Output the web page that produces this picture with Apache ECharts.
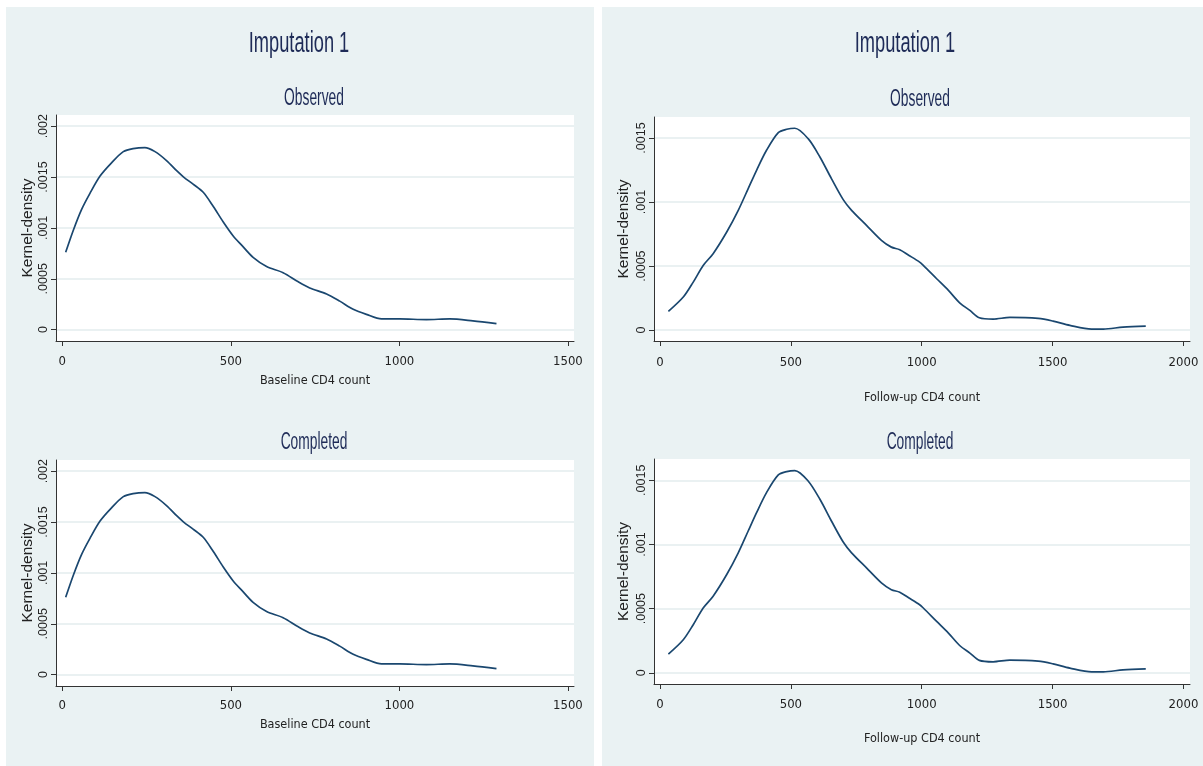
<!doctype html>
<html>
<head>
<meta charset="utf-8">
<title>Imputation 1 - kernel density</title>
<style>
html, body {
	margin: 0;
	padding: 0;
	background: #fff;
}
#main {
	width: 1203px;
	height: 766px;
}
</style>
</head>
<body>
<div id="main"></div>
<script src="https://cdn.jsdelivr.net/npm/echarts@6.0.0/dist/echarts.min.js"></script>
<script>
// left column: baseline CD4 count
var baselineCd4 = [10, 33, 57, 82, 112, 146, 181, 210, 245, 275, 310, 340, 360, 388, 418, 448, 477, 507, 532, 566,
  606, 655, 700, 734, 784, 823, 863, 902, 947, 1001, 1080, 1149, 1218, 1288];
var baselineObserved = [0.00076, 0.00098, 0.00118, 0.00134, 0.00151, 0.00164, 0.00175, 0.00178, 0.00179, 0.00175,
  0.00166, 0.00156, 0.00150, 0.00143, 0.00135, 0.00121, 0.00106, 0.00092, 0.00083, 0.00071,
  0.00062, 0.00056, 0.00047, 0.00041, 0.00035, 0.00028, 0.00020, 0.00015, 0.000105, 0.000105,
  0.000099, 0.000105, 0.000086, 0.000059];
var baselineCompleted = [0.00076, 0.00098, 0.00118, 0.00134, 0.00151, 0.00164, 0.00175, 0.00178, 0.00179, 0.00175,
  0.00166, 0.00156, 0.00150, 0.00143, 0.00135, 0.00121, 0.00106, 0.00092, 0.00083, 0.00071,
  0.00062, 0.00056, 0.00047, 0.00041, 0.00035, 0.00028, 0.00020, 0.00015, 0.000105, 0.000105,
  0.000099, 0.000105, 0.000086, 0.000059];

// right column: follow-up CD4 count
var followupCd4 = [32, 89, 127, 165, 203, 255, 299, 337, 369, 407, 452, 484, 515, 566, 611, 655, 700, 732, 789, 846,
  884, 916, 950, 992, 1006, 1057, 1102, 1146, 1184, 1220, 1273, 1337, 1445, 1502, 1566, 1649, 1694, 1769, 1856];
var followupObserved = [0.000146, 0.000258, 0.000375, 0.000505, 0.000597, 0.000766, 0.000935, 0.001105, 0.001248, 0.001404,
  0.001542, 0.001568, 0.001576, 0.001495, 0.001352, 0.001183, 0.001019, 0.000935, 0.000818, 0.000701,
  0.000648, 0.000628, 0.000585, 0.000531, 0.000505, 0.000401, 0.00031, 0.000211, 0.000154, 0.000097,
  0.000086, 0.000099, 0.000091, 0.00007, 0.000037, 0.000008, 0.000008, 0.000023, 0.000031];
var followupCompleted = [0.000146, 0.000258, 0.000375, 0.000505, 0.000597, 0.000766, 0.000935, 0.001105, 0.001248, 0.001404,
  0.001542, 0.001568, 0.001576, 0.001495, 0.001352, 0.001183, 0.001019, 0.000935, 0.000818, 0.000701,
  0.000648, 0.000628, 0.000585, 0.000531, 0.000505, 0.000401, 0.00031, 0.000211, 0.000154, 0.000097,
  0.000086, 0.000099, 0.000091, 0.00007, 0.000037, 0.000008, 0.000008, 0.000023, 0.000031];

var baselineTicks = [0, 500, 1000, 1500];
var followupTicks = [0, 500, 1000, 1500, 2000];
var baselineDensityTicks = [0, 0.0005, 0.001, 0.0015, 0.002];
var followupDensityTicks = [0, 0.0005, 0.001, 0.0015];

var narrow = '"Liberation Sans Narrow", "DejaVu Sans Condensed", sans-serif';
var plain = '"Liberation Sans", Arial, sans-serif';
var navy = '#1a476f';
var titleColor = '#1e2b57';
var panelBg = '#eaf2f3';

function pairs(xs, ys) {
  return xs.map(function (x, i) { return [x, ys[i]]; });
}

// stata style: .0005 instead of 0.0005
function densityLabel(v) {
  return v === 0 ? '0' : String(v).replace(/^0/, '');
}

function countLabel(v) {
  return String(v);
}

function xAxis(grid, ticks, min, max, name, gap, margin) {
  return {
    type: 'value', gridIndex: grid, min: min, max: max,
    name: name, nameLocation: 'middle', nameGap: gap,
    nameTextStyle: { fontFamily: narrow, fontSize: 12.5, color: '#222' },
    axisLine: { show: true, onZero: false, lineStyle: { color: '#333', width: 1 } },
    axisTick: { show: true, length: 5, customValues: ticks, lineStyle: { color: '#333' } },
    axisLabel: { customValues: ticks, margin: margin, formatter: countLabel,
      fontFamily: narrow, fontSize: 13, color: '#222' },
    splitLine: { show: false }
  };
}

function yAxis(grid, ticks, min, max, gap, margin) {
  return {
    type: 'value', gridIndex: grid, min: min, max: max,
    name: 'Kernel-density', nameLocation: 'middle', nameRotate: 90, nameGap: gap,
    nameTextStyle: { fontFamily: plain, fontSize: 15.5, color: '#222' },
    axisLine: { show: true, onZero: false, lineStyle: { color: '#333', width: 1 } },
    axisTick: { show: true, length: 5, customValues: ticks, lineStyle: { color: '#333' } },
    axisLabel: { customValues: ticks, rotate: 90, margin: margin, formatter: densityLabel,
      fontFamily: plain, fontSize: 12.5, color: '#222' },
    splitLine: { show: true, lineStyle: { color: '#e3ecee', width: 1.5 } }
  };
}

function curve(i, xs, ys) {
  return {
    type: 'line', xAxisIndex: i, yAxisIndex: i,
    data: pairs(xs, ys),
    symbol: 'none', smooth: 0.3,
    lineStyle: { color: navy, width: 1.7 }
  };
}

function heading(text, x, y, size, sx) {
  return {
    type: 'text', x: x, y: y, scaleX: sx, z: 10,
    style: { text: text, fontFamily: plain, fontSize: size, fill: titleColor,
      align: 'center', verticalAlign: 'middle' }
  };
}

var myChart = echarts.init(document.getElementById('main'));

var option = {
  animation: false,
  backgroundColor: '#fff',
  graphic: [
    { type: 'rect', z: -10, shape: { x: 6, y: 7, width: 588, height: 759 }, style: { fill: panelBg } },
    { type: 'rect', z: -10, shape: { x: 602, y: 7, width: 601, height: 759 }, style: { fill: panelBg } },
    heading('Imputation 1', 299, 44, 29, 0.63),
    heading('Imputation 1', 905, 44, 29, 0.63),
    heading('Observed', 314, 99, 23, 0.6),
    heading('Observed', 920, 100, 23, 0.6),
    heading('Completed', 314, 443, 23, 0.6),
    heading('Completed', 920, 443, 23, 0.6)
  ],
  grid: [
    { left: 56, top: 115, width: 518, height: 226, show: true, backgroundColor: '#fff', borderWidth: 0 },
    { left: 654, top: 117, width: 536, height: 224, show: true, backgroundColor: '#fff', borderWidth: 0 },
    { left: 56, top: 460, width: 518, height: 226, show: true, backgroundColor: '#fff', borderWidth: 0 },
    { left: 654, top: 459, width: 536, height: 225, show: true, backgroundColor: '#fff', borderWidth: 0 }
  ],
  xAxis: [
    xAxis(0, baselineTicks, -18.7, 1518, 'Baseline CD4 count', 33, 14),
    xAxis(1, followupTicks, -22.9, 2025, 'Follow-up CD4 count', 50, 15),
    xAxis(2, baselineTicks, -18.7, 1518, 'Baseline CD4 count', 32, 13),
    xAxis(3, followupTicks, -22.9, 2025, 'Follow-up CD4 count', 48, 14)
  ],
  yAxis: [
    yAxis(0, baselineDensityTicks, -0.000112, 0.00211, 16, 6),
    yAxis(1, followupDensityTicks, -0.000085, 0.001664, 22, 6),
    yAxis(2, baselineDensityTicks, -0.000112, 0.00211, 16, 6),
    yAxis(3, followupDensityTicks, -0.000087, 0.001666, 22, 6)
  ],
  series: [
    curve(0, baselineCd4, baselineObserved),
    curve(1, followupCd4, followupObserved),
    curve(2, baselineCd4, baselineCompleted),
    curve(3, followupCd4, followupCompleted)
  ]
};

myChart.setOption(option);
</script>
</body>
</html>
